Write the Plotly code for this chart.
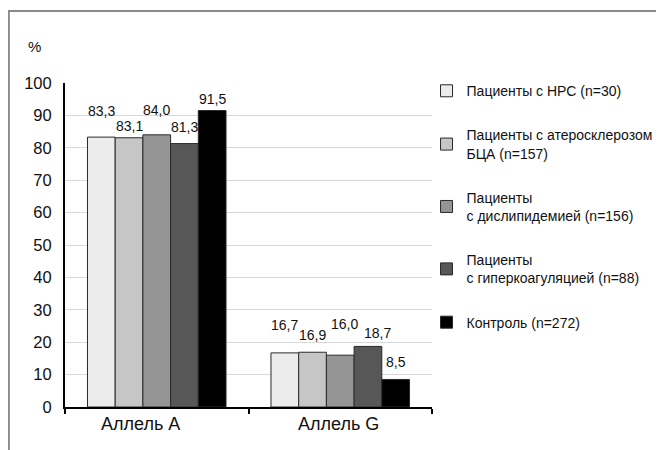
import plotly.graph_objects as go

categories = ["Аллель А", "Аллель G"]
series_names = [
    "Пациенты с НРС (n=30)",
    "Пациенты с атеросклерозом<br>БЦА (n=157)",
    "Пациенты<br>с дислипидемией (n=156)",
    "Пациенты<br>с гиперкоагуляцией (n=88)",
    "Контроль (n=272)",
]
values = [
    [83.3, 16.7],
    [83.1, 16.9],
    [84.0, 16.0],
    [81.3, 18.7],
    [91.5, 8.5],
]
label_texts = [
    ["83,3", "16,7"],
    ["83,1", "16,9"],
    ["84,0", "16,0"],
    ["81,3", "18,7"],
    ["91,5", "8,5"],
]
y_ticks = list(range(0, 101, 10))

# styles
colors = ["#ececec", "#c6c6c6", "#959595", "#575757", "#000000"]
label_yshift = [[26, 28], [12, 17], [25, 31], [17, 13], [12, 17]]
label_xshift = [[0, 0], [0, 0], [0, 4], [0, 10], [0, 0]]
cat_xshift = [-16, -2]
FONT = "Liberation Sans, Arial, sans-serif"

fig = go.Figure()
for i, name in enumerate(series_names):
    fig.add_trace(go.Bar(
        x=categories, y=values[i], name=name,
        marker=dict(color=colors[i], line=dict(color="#2a2a2a", width=1)),
        legendgroup=f"g{i}",
        hoverinfo="skip",
    ))

n = len(series_names)
bargap = 0.245
group_w = 1 - bargap
bw = group_w / n
for i in range(n):
    for j, cat in enumerate(categories):
        off = -group_w / 2 + bw * (i + 0.5)
        fig.add_annotation(
            x=j + off, y=values[i][j], xref="x", yref="y",
            text=label_texts[i][j], showarrow=False,
            yanchor="middle", xanchor="center",
            yshift=label_yshift[i][j], xshift=label_xshift[i][j],
            font=dict(size=14, color="#111", family=FONT),
        )

# category labels
for j, cat in enumerate(categories):
    fig.add_annotation(
        x=cat, y=0, xref="x", yref="paper", text=cat, showarrow=False,
        yanchor="top", xanchor="center", yshift=-5, xshift=cat_xshift[j],
        font=dict(size=18, color="#111", family=FONT),
    )

fig.add_annotation(text="%", xref="paper", yref="paper",
                   x=-0.105, y=1.144, showarrow=False,
                   font=dict(size=15, color="#111", family=FONT))

# outer frame
fig.add_shape(type="rect", xref="paper", yref="paper",
              x0=-0.153, x1=1.7, y0=-0.3, y1=1.222,
              line=dict(color="#8a8a8a", width=2), fillcolor="rgba(0,0,0,0)",
              layer="below")

fig.update_layout(
    width=656, height=442,
    margin=dict(l=57, r=232, t=75, b=43, autoexpand=False),
    paper_bgcolor="white", plot_bgcolor="white",
    barmode="group", bargap=bargap, bargroupgap=0,
    font=dict(family=FONT, color="#111"),
    showlegend=True,
    legend=dict(
        xref="container", yref="container",
        x=0.638, y=0.848, xanchor="left", yanchor="top",
        font=dict(size=14, family=FONT, color="#111"),
        tracegroupgap=23, itemwidth=30, maxheight=800,
        bgcolor="rgba(0,0,0,0)",
    ),
    xaxis=dict(
        type="category", showline=True, linecolor="#000", linewidth=2,
        ticks="outside", tickson="boundaries", ticklen=5, tickcolor="#000",
        tickwidth=2, showticklabels=False,
        showgrid=False,
    ),
    yaxis=dict(
        range=[0, 100], tickvals=y_ticks, showline=True, linecolor="#000",
        linewidth=2, showgrid=True, gridcolor="#d9d9d9", gridwidth=1,
        tickfont=dict(size=16.5, family=FONT, color="#111"),
        ticks="outside", ticklen=8, tickcolor="rgba(0,0,0,0)",
        zeroline=False,
    ),
)

fig.write_html("out.html")
